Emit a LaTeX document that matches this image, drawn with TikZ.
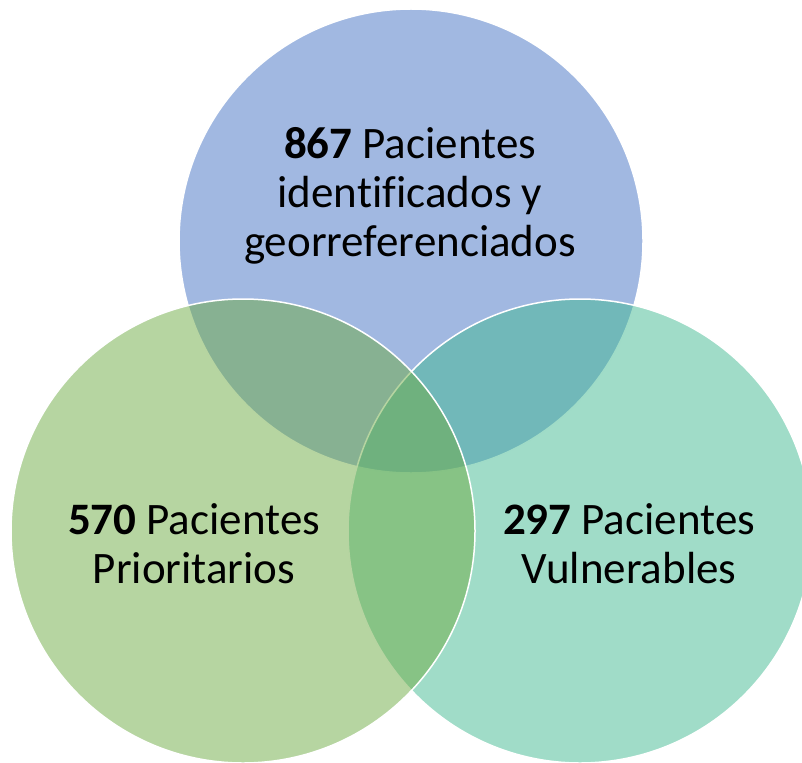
\documentclass[tikz,border=0pt]{standalone}
\usepackage{fontspec}
\setmainfont{Carlito}[Ligatures=NoCommon]
\definecolor{vennblue}{HTML}{4472C4}
\definecolor{venngreen}{HTML}{6EAB44}
\definecolor{vennteal}{HTML}{41B991}
\tikzset{
	venn/.style={draw=white, line width=1.5pt, fill opacity=0.5},
	venntext/.style={font=\fontsize{45}{49}\selectfont, align=center, inner sep=0pt}
}

\begin{document}
\begin{tikzpicture}[x=1pt, y=-1pt]
			%%%%% START %%%%%
			
			\useasboundingbox (0, 0) rectangle (802, 762);
			\clip (0, 0) rectangle (802, 762);
			
			\draw[venn, fill=vennblue] (411, 241) circle (232);
			\draw[venn, fill=vennteal] (580, 531) circle (232);
			\draw[venn, fill=venngreen] (243, 531) circle (232);
			
			\node[venntext] (identificados) at (410, 196) {\textbf{867} Pacientes\\identificados y\\georreferenciados};
			\node[venntext] (prioritarios) at (194, 544) {\textbf{570} Pacientes\\Prioritarios};
			\node[venntext] (vulnerables) at (629, 544) {\textbf{297} Pacientes\\Vulnerables};
			
			%%%%% END %%%%%
\end{tikzpicture}
\end{document}
